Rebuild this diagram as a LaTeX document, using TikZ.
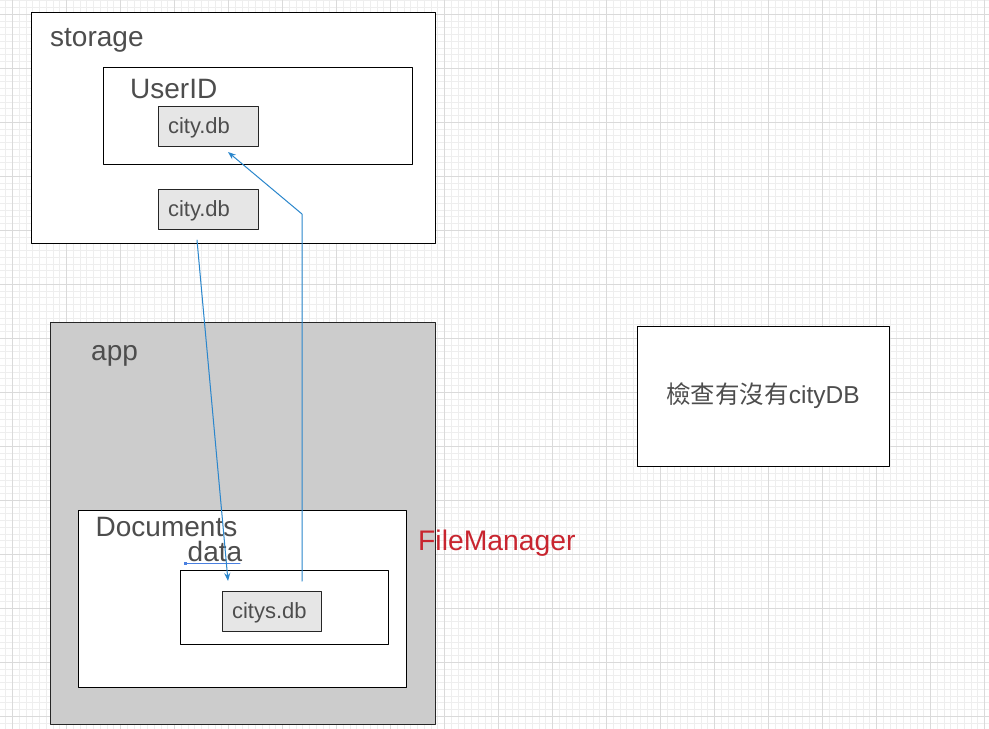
\documentclass[tikz,border=0pt]{standalone}
\usepackage{fontspec}
\setmainfont{Liberation Sans}
\newfontfamily\cjk{Noto Sans CJK TC}
\usepackage{tikz}
\usetikzlibrary{arrows.meta}
\definecolor{txtgray}{HTML}{4D4D4D}
\definecolor{appgray}{HTML}{CCCCCC}
\definecolor{dbgray}{HTML}{E6E6E6}
\definecolor{flowblue}{HTML}{2A86CC}
\definecolor{selblue}{HTML}{4A80E0}
\definecolor{fmred}{HTML}{C8252F}
\definecolor{minorgrid}{HTML}{EEEEEE}
\definecolor{majorgrid}{HTML}{DADADA}
\tikzset{
    box/.style = {draw=black, line width=1pt, fill=white, inner sep=0pt},
    dbbox/.style = {draw=black!85, line width=1pt, fill=dbgray, minimum height=40pt,
        inner xsep=10pt, inner ysep=0pt, text height=17pt, text depth=3pt,
        align=left, text=txtgray, font=\fontsize{22}{24}\selectfont},
    label/.style = {anchor=base west, inner sep=0pt, text=txtgray,
        font=\fontsize{28}{32}\selectfont},
    flow/.style = {draw=flowblue, line width=1pt, -{Stealth[length=8pt,width=6pt]}}
}

\begin{document}
\begin{tikzpicture}[line cap=round,line join=round,x=1pt,y=-1pt]
    \useasboundingbox (0,0) rectangle (989,729);
    \fill[white] (0,0) rectangle (989,729);
    
    % grid
    \foreach \i in {0,...,147} \draw[minorgrid, line width=1pt] ({-0.8+\i*6.75},0) -- ++(0,729);
    \foreach \j in {0,...,107} \draw[minorgrid, line width=1pt] (0,{0.8+\j*6.75}) -- ++(989,0);
    \foreach \i in {0,...,18} \draw[majorgrid, line width=1pt] ({12.7+\i*54},0) -- ++(0,729);
    \foreach \j in {0,...,13} \draw[majorgrid, line width=1pt] (0,{14.3+\j*54}) -- ++(989,0);
    
    % storage
    \node[box, minimum width=404pt, minimum height=231pt] (storage) at (233,127.5) {};
    \node[label] (storagelbl) at (50,46.5) {storage};
    \node[box, minimum width=309pt, minimum height=97pt] (userid) at (257.5,115.5) {};
    \node[label] (useridlbl) at (130,98.5) {UserID};
    \node[dbbox, text width=80pt] (citydbuser) at (208,126) {city.db};
    \node[dbbox, text width=80pt] (citydb) at (208,209) {city.db};
    
    % app
    \node[box, fill=appgray, draw=black!85, minimum width=385pt, minimum height=402pt] (app) at (242.5,523) {};
    \node[label] (applbl) at (91,360) {app};
    \node[box, minimum width=328pt, minimum height=177pt] (documents) at (242,598.5) {};
    \node[label] (documentslbl) at (95.5,536.5) {Documents};
    \node[label] (datalbl) at (187.5,561.5) {data};
    \draw[selblue, line width=1pt] (185,563) -- (240,563);
    \fill[selblue] (183.5,561.5) rectangle (186.5,564.5);
    \node[box, minimum width=208pt, minimum height=74pt] (data) at (284,607) {};
    \node[dbbox, text width=79pt] (citysdb) at (271.5,611) {citys.db};
    
    \node[label, text=fmred, font=\fontsize{28.3}{32}\selectfont] (filemanager) at (418,550) {FileManager};
    
    \node[box, minimum width=252pt, minimum height=140pt, text=txtgray,
        font=\fontsize{24.5}{28}\selectfont] (check) at (763,396) {{\cjk 檢查有沒有}cityDB};
    
    % copy arrows
    \coordinate (downfrom) at (197,240);
    \coordinate (downto) at (228,581);
    \draw[flow] (downfrom) -- (downto);
    \coordinate (upfrom) at (302,581);
    \coordinate (upbend) at (302,214);
    \coordinate (upto) at (228,152);
    \draw[flow] (upfrom) -- (upbend) -- (upto);
\end{tikzpicture}
\end{document}
